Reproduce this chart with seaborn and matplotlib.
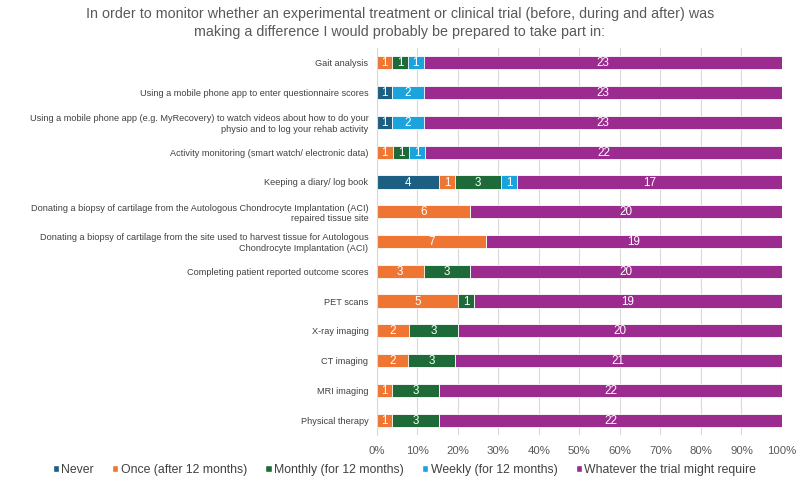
import numpy as np
import pandas as pd
import matplotlib
matplotlib.use("Agg")
import matplotlib.pyplot as plt
import seaborn as sns
from matplotlib.patches import Patch

# 類別 (由上而下)
categories = [
    "Gait analysis",
    "Using a mobile phone app to enter questionnaire scores",
    "Using a mobile phone app (e.g. MyRecovery) to watch videos about how to do your\nphysio and to log your rehab activity",
    "Activity monitoring (smart watch/ electronic data)",
    "Keeping a diary/ log book",
    "Donating a biopsy of cartilage from the Autologous Chondrocyte Implantation (ACI)\nrepaired tissue site",
    "Donating a biopsy of cartilage from the site used to harvest tissue for Autologous\nChondrocyte Implantation (ACI)",
    "Completing patient reported outcome scores",
    "PET scans",
    "X-ray imaging",
    "CT imaging",
    "MRI imaging",
    "Physical therapy",
]

series_names = ["Never", "Once (after 12 months)", "Monthly (for 12 months)",
                "Weekly (for 12 months)", "Whatever the trial might require"]

never    = [0, 1, 1, 0, 4, 0, 0, 0, 0, 0, 0, 0, 0]
once     = [1, 0, 0, 1, 1, 6, 7, 3, 5, 2, 2, 1, 1]
monthly  = [1, 0, 0, 1, 3, 0, 0, 3, 1, 3, 3, 3, 3]
weekly   = [1, 2, 2, 1, 1, 0, 0, 0, 0, 0, 0, 0, 0]
whatever = [23, 23, 23, 22, 17, 20, 19, 20, 19, 20, 21, 22, 22]

colors = ["#1c5f82", "#ee7632", "#1e6b39", "#1aa3dc", "#9c2b8f"]

# 整理資料
counts = pd.DataFrame({
    series_names[0]: never,
    series_names[1]: once,
    series_names[2]: monthly,
    series_names[3]: weekly,
    series_names[4]: whatever,
}, index=categories)
pct = counts.div(counts.sum(axis=1), axis=0) * 100
cum = pct.cumsum(axis=1)

sns.set_theme(style="white")
plt.rcParams['font.family'] = ['Liberation Sans', 'DejaVu Sans']

fig = plt.figure(figsize=(8, 4.83), dpi=100)
ax = fig.add_axes([0.471, 0.0994, 0.5065, 0.8012])

# 由最右側的累積值開始往回畫 (後畫的會蓋住前面的)
for i in range(len(series_names) - 1, -1, -1):
    col = series_names[i]
    df_plot = pd.DataFrame({"cat": categories, "val": cum[col].values})
    sns.barplot(data=df_plot, x="val", y="cat", orient="h", color=colors[i],
                saturation=1, width=0.44, edgecolor="white", linewidth=0.6, ax=ax)

# 數值標籤
for r, cat in enumerate(categories):
    for i, col in enumerate(series_names):
        v = counts.loc[cat, col]
        if v > 0:
            x = cum.loc[cat, col] - pct.loc[cat, col] / 2
            ax.text(x, r + 0.02, str(v), ha="center", va="center", color="white", fontsize=8.4)

ax.set_xlim(0, 100)
ax.set_ylim(len(categories) - 0.5, -0.5)
ax.set_xticks(np.arange(0, 101, 10))
ax.set_xticklabels([f"{t}%" for t in range(0, 101, 10)], fontsize=8.2, color="#595959")
ax.tick_params(axis="y", labelsize=6.6, labelcolor="#404040", length=0, pad=6)
ax.tick_params(axis="x", length=0, pad=8)
ax.set_xlabel("")
ax.set_ylabel("")
ax.xaxis.grid(True, color="#d9d9d9", linewidth=0.8)
ax.set_axisbelow(True)
for s in ["top", "right", "bottom"]:
    ax.spines[s].set_visible(False)
ax.spines["left"].set_color("#d9d9d9")
ax.spines["left"].set_linewidth(0.8)

fig.suptitle("In order to monitor whether an experimental treatment or clinical trial (before, during and after) was\n"
             "making a difference I would probably be prepared to take part in:",
             x=0.5, y=0.985, fontsize=10.3, color="#595959", linespacing=1.3)

handles = [Patch(facecolor=c, label=n) for c, n in zip(colors, series_names)]
fig.legend(handles=handles, loc="center left", bbox_to_anchor=(0.066, 0.027), ncol=5,
           frameon=False, fontsize=8.8, handlelength=0.5, handleheight=0.5,
           handletextpad=0.2, columnspacing=1.5, labelcolor="#404040",
           borderpad=0, borderaxespad=0)

fig.savefig("out.png", dpi=100)
